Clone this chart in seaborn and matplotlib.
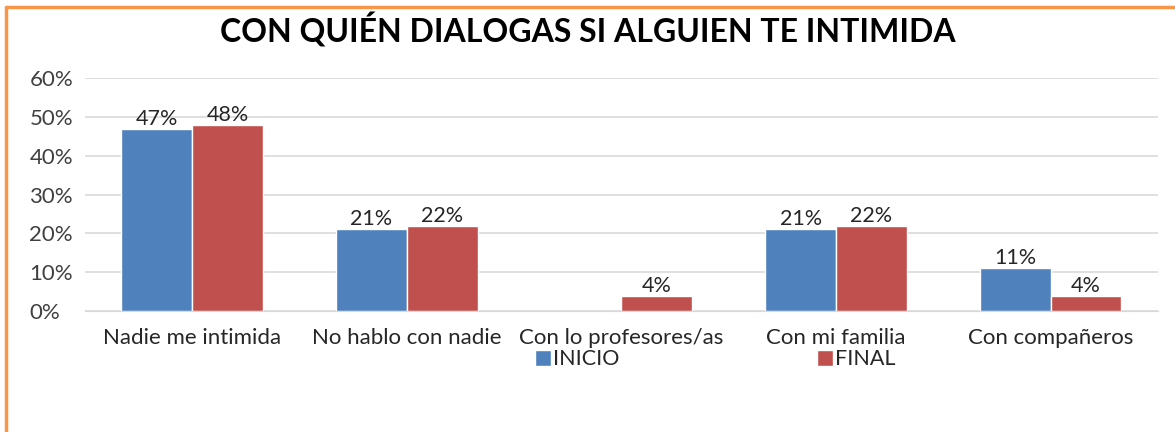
import matplotlib
matplotlib.use("Agg")
import matplotlib.pyplot as plt
import seaborn as sns
import pandas as pd
import numpy as np
from matplotlib.lines import Line2D

categories = ["Nadie me intimida", "No hablo con nadie", "Con lo profesores/as", "Con mi familia", "Con compañeros"]
inicio = [47, 21, None, 21, 11]
final = [48, 22, 4, 22, 4]
series_names = ["INICIO", "FINAL"]
yticks = [0, 10, 20, 30, 40, 50, 60]
title = "CON QUIÉN DIALOGAS SI ALGUIEN TE INTIMIDA"

rows = []
for c, v in zip(categories, inicio):
    rows.append({"cat": c, "serie": series_names[0], "val": np.nan if v is None else v})
for c, v in zip(categories, final):
    rows.append({"cat": c, "serie": series_names[1], "val": np.nan if v is None else v})
df = pd.DataFrame(rows)

sns.set_style("white")
plt.rcParams['font.family'] = ['Lato', 'DejaVu Sans']

fig = plt.figure(figsize=(11.75, 4.32), dpi=100)
ax = fig.add_axes([0.0723, 0.280, 0.9132, 0.5394])

palette = {"INICIO": "#4F81BD", "FINAL": "#C0504D"}
sns.barplot(data=df, x="cat", y="val", hue="serie", hue_order=series_names,
            order=categories, palette=palette, width=0.66, saturation=1,
            ax=ax, errorbar=None, legend=True)

for cont in ax.containers:
    labels = ["" if np.isnan(h) else f"{int(round(h))}%" for h in cont.datavalues]
    ax.bar_label(cont, labels=labels, padding=0, fontsize=15.5, color="#262626")

ax.set_ylim(0, 60)
ax.set_yticks(yticks)
ax.set_yticklabels([f"{t}%" for t in yticks], fontsize=16, color="#404040")
for lab in ax.get_yticklabels():
    lab.set_horizontalalignment("left")
ax.tick_params(axis="x", labelsize=16, labelcolor="#262626", length=0, pad=12)
ax.tick_params(axis="y", length=0, pad=40)
ax.yaxis.grid(True, color="#D9D9D9", linewidth=1.2)
ax.set_axisbelow(True)
for s in ["top", "right", "left"]:
    ax.spines[s].set_visible(False)
ax.spines["bottom"].set_color("#D9D9D9")
ax.set_xlabel("")
ax.set_ylabel("")

handles, labs = ax.get_legend_handles_labels()
ax.legend(handles, labs, loc="upper left", bbox_to_anchor=(450/1073, -0.165), ncol=2,
          frameon=False, fontsize=15.5, handlelength=0.75, handleheight=0.75,
          handletextpad=0.1, columnspacing=9.15, borderpad=0, borderaxespad=0)

fig.text(0.5, 0.93, title, ha="center", va="center", fontsize=23, fontweight="bold", color="black")

fig.add_artist(Line2D([6/1175, 1], [1-7/432, 1-7/432], color="#F79646", linewidth=2.5, transform=fig.transFigure))
fig.add_artist(Line2D([6/1175, 6/1175], [0, 1-7/432], color="#F79646", linewidth=2.5, transform=fig.transFigure))

fig.savefig("out.png", dpi=100)
